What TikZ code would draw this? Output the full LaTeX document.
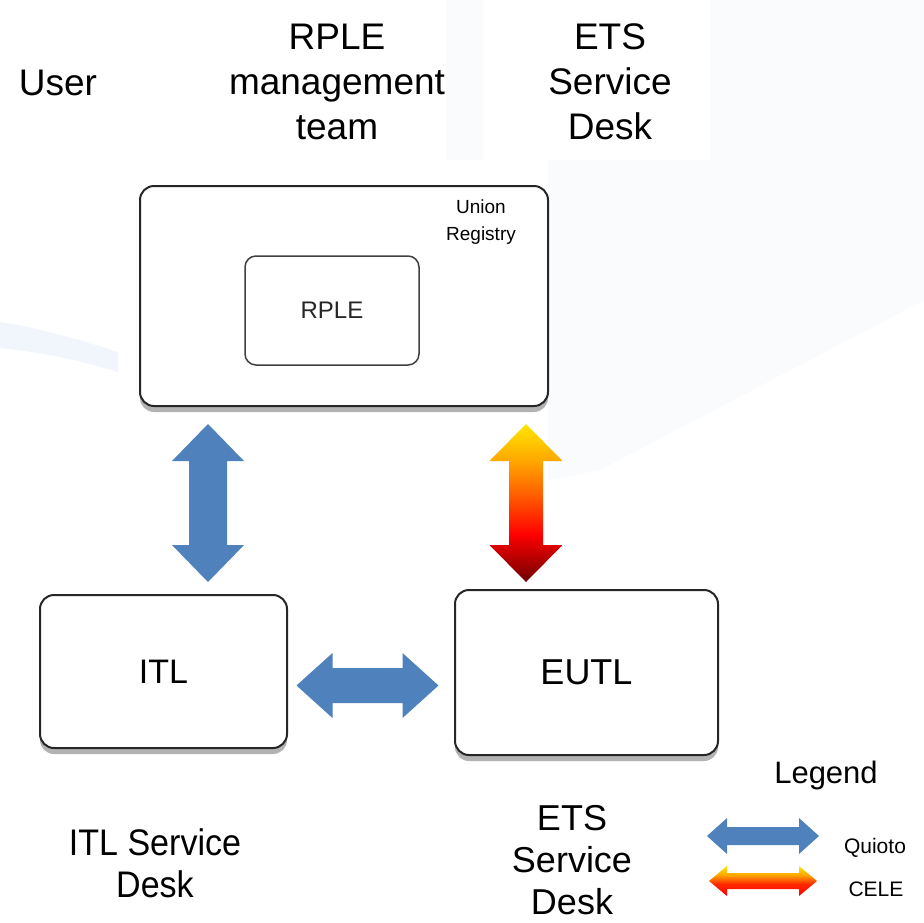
\documentclass[tikz,border=0pt]{standalone}
\usepackage{fontspec}
\setmainfont{Liberation Sans}
\usetikzlibrary{shadows,calc}
\definecolor{qblue}{RGB}{79,129,189}
\definecolor{paleA}{RGB}{249,251,253}
\definecolor{paleB}{RGB}{240,246,251}
\definecolor{celeY}{RGB}{255,230,0}
\definecolor{celeO}{RGB}{255,165,0}
\definecolor{celeR}{RGB}{255,40,0}
\definecolor{celeDR}{RGB}{110,0,0}
\pgfdeclareverticalshading{celeV}{100bp}{color(0bp)=(celeDR); color(25bp)=(celeDR); color(40bp)=(red); color(52bp)=(celeR!60!celeO); color(63bp)=(celeO); color(75bp)=(celeY); color(100bp)=(celeY)}
\pgfdeclareverticalshading{celeL}{100bp}{color(0bp)=(red); color(25bp)=(red); color(45bp)=(celeR); color(60bp)=(celeO); color(75bp)=(celeY); color(100bp)=(celeY)}
\tikzset{
  sysbox/.style={draw=black!85, line width=2pt, fill=white, rounded corners=14pt,
    inner sep=0pt, drop shadow={shadow xshift=0pt, shadow yshift=-6pt, fill=black, opacity=0.3}},
  innerbox/.style={draw=black!75, line width=1.5pt, fill=white, rounded corners=11pt, inner sep=0pt},
  bigtxt/.style={font=\fontsize{37}{45}\selectfont, align=center, inner sep=0pt},
  midtxt/.style={font=\fontsize{36}{42}\selectfont, align=center, inner sep=0pt},
  % vertical double block arrow: half length / half head width / half shaft width / head length
  pics/vdbl/.style args={#1/#2/#3/#4}{code={
    \path[pic actions] (0,-#1) -- (#2,-#1+#4) -- (#3,-#1+#4) -- (#3,#1-#4) -- (#2,#1-#4)
      -- (0,#1) -- (-#2,#1-#4) -- (-#3,#1-#4) -- (-#3,-#1+#4) -- (-#2,-#1+#4) -- cycle;
  }},
  pics/hdbl/.style args={#1/#2/#3/#4}{code={
    \path[pic actions] (-#1,0) -- (-#1+#4,-#2) -- (-#1+#4,-#3) -- (#1-#4,-#3) -- (#1-#4,-#2)
      -- (#1,0) -- (#1-#4,#2) -- (#1-#4,#3) -- (-#1+#4,#3) -- (-#1+#4,#2) -- cycle;
  }},
}
\begin{document}
\begin{tikzpicture}[x=1pt,y=-1pt]
\useasboundingbox (0,0) rectangle (924,922);
\fill[white] (0,0) rectangle (924,922);
% faint background
\fill[paleA] (710,0) -- (924,0) -- (924,300) -- (600,470) -- (548,480) -- (548,160) -- (710,160) -- cycle;
\fill[paleA] (446,0) -- (483,0) -- (483,160) -- (446,160) -- cycle;
\fill[paleB] (0,322) .. controls (40,328) and (80,340) .. (118,352) -- (118,372) .. controls (80,360) and (40,352) .. (0,348) -- cycle;

% header texts
\node[bigtxt] (user) at (58,83) {User};
\node[bigtxt] (rplet) at (337,82) {RPLE\\management\\team};
\node[bigtxt] (etst) at (610,82) {ETS\\Service\\Desk};

% union registry
\node[sysbox, minimum width=408pt, minimum height=220pt] (ur) at (344,296) {};
\node[font=\fontsize{19}{27}\selectfont, align=center, inner sep=0pt] (urlab) at (481,222) {Union\\Registry};
\node[innerbox, minimum width=174pt, minimum height=109pt] (rple) at (332,310.5) {};
\node[font=\fontsize{24}{28}\selectfont, inner sep=0pt, text=black!85] (rpletxt) at (rple) {RPLE};

% lower boxes
\node[sysbox, minimum width=247pt, minimum height=153pt] (itl) at (163.5,671.5) {};
\node[font=\fontsize{34}{40}\selectfont, inner sep=0pt] (itltxt) at (itl) {ITL};
\node[sysbox, minimum width=263pt, minimum height=165pt] (eutl) at (586.5,672.5) {};
\node[font=\fontsize{36}{40}\selectfont, inner sep=0pt] (eutltxt) at (eutl) {EUTL};

% connectors (block arrows) between the boxes
\coordinate (c1) at ($(ur.south)!0.5!(itl.north) + (-45.75,2.5)$);
\coordinate (c2) at ($(ur.south)!0.5!(eutl.north) + (60.75,5)$);
\coordinate (c3) at ($(itl.east)!0.5!(eutl.west) + (-3.5,13.5)$);
\pic[fill=qblue] (a1) at (c1) {vdbl=79/36/19/37};
\pic[shading=celeV] (a2) at (c2) {vdbl=79/36.5/17/37};
\pic[fill=qblue] (a3) at (c3) {hdbl=71/32.5/17.5/36};

% bottom labels
\node[midtxt, font=\fontsize{37}{42}\selectfont, xscale=0.92] (itlsd) at (155,863) {ITL Service\\Desk};
\node[midtxt] (etssd) at (572,860) {ETS\\Service\\Desk};
\node[font=\fontsize{31}{36}\selectfont, inner sep=0pt] (legend) at (826,775) {Legend};

% legend
\coordinate (lq) at (763,836);
\coordinate (lc) at (763,881);
\pic[fill=qblue] (lqa) at (lq) {hdbl=56/18/9/20};
\pic[shading=celeL] (lca) at (lc) {hdbl=54/15/8/18};
\node[font=\fontsize{21}{24}\selectfont, inner sep=0pt] (quioto) at (875,848) {Quioto};
\node[font=\fontsize{21}{24}\selectfont, inner sep=0pt] (cele) at (876,889) {CELE};
\end{tikzpicture}
\end{document}
